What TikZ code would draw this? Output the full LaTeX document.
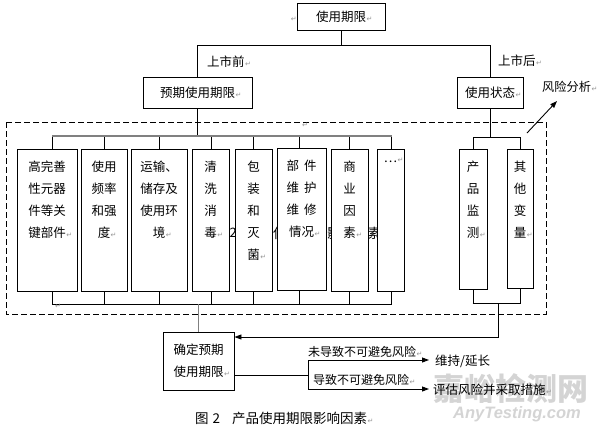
\documentclass[tikz,border=0pt]{standalone}
\usepackage{fontspec}
\newfontfamily\cjk{Noto Sans CJK SC}
\newfontfamily\dejavu{DejaVu Sans}
\newfontfamily\wmfont{Liberation Sans}
\usetikzlibrary{arrows.meta}
\definecolor{retgray}{RGB}{150,150,150}
\definecolor{wmgray}{RGB}{212,212,212}
\definecolor{lngray}{RGB}{128,128,128}
\newcommand\rt{\rlap{\hspace{0.5pt}\textcolor{retgray}{\dejavu\fontsize{7}{7}\selectfont ↵}}}
\tikzset{
  box/.style={draw, line width=0.9pt, fill=white, inner sep=0pt},
  txt/.style={font=\cjk\fontsize{12.5}{22}\selectfont, inner sep=0pt, align=center, anchor=north},
  lbl/.style={font=\cjk\fontsize{12.5}{15}\selectfont, inner sep=0pt, anchor=west},
  bgt/.style={font=\cjk\fontsize{13.5}{13.5}\selectfont, inner sep=0pt, anchor=west},
  ln/.style={line width=0.9pt},
  gln/.style={line width=1.3pt, draw=lngray},
  arr/.style={line width=0.9pt, -{Triangle[length=7pt,width=5pt]}},
  retm/.style={font=\dejavu\fontsize{7}{7}\selectfont, text=retgray, inner sep=0pt},
  dashbox/.style={line width=0.9pt, dash pattern=on 6pt off 3pt}
}
\begin{document}
\begin{tikzpicture}[x=1pt,y=-1pt]
\useasboundingbox (0,0) rectangle (598,432);
\fill[white] (0,0) rectangle (598,432);

% watermark
\node[font=\cjk\bfseries\fontsize{31}{31}\selectfont, text=wmgray, inner sep=0pt] (wm1) at (511,389) {嘉峪检测网};
\node[font=\wmfont\bfseries\itshape\fontsize{16.5}{16.5}\selectfont, text=wmgray, inner sep=0pt] (wm2) at (517,414) {AnyTesting.com};

% hidden background text fragments (visible only between boxes)
\node[bgt, font=\cjk\fontsize{13}{13}\selectfont] (bg1) at (229.5,233) {2};
\node[bgt] (bg2) at (273,233) {使};
\node[bgt] (bg3) at (327,233) {影};
\node[bgt] (bg4) at (367.5,233) {素};

% top level
\node[box, minimum width=88pt, minimum height=27pt, font=\cjk\fontsize{12.5}{15}\selectfont] (top) at (341,16.5) {使用期限\rt};
\node[retm, anchor=east] (m0) at (297,19) {↵};
\node[box, minimum width=109pt, minimum height=31pt, font=\cjk\fontsize{12.5}{15}\selectfont] (pre) at (197.5,92.5) {预期使用期限\rt};
\node[box, minimum width=66pt, minimum height=31pt, font=\cjk\fontsize{12.5}{15}\selectfont] (post) at (490,92.5) {使用状态\rt};
\node[lbl] (lpre) at (207,62) {上市前\rt};
\node[lbl] (lpost) at (498,61) {上市后\rt};
\node[lbl, font=\cjk\fontsize{12.2}{15}\selectfont] (risk) at (542,87) {风险分析\rt};

\draw[ln] (top.south) -- ++(0,16);
\draw[ln] (pre.north) -- ++(0,-31) -| (post.north);

% dashed frame
\draw[dashbox] (6,122) rectangle (546,314);
\node[retm] (m1) at (305,125) {↵};

% left group boxes
\node[box, minimum width=60pt, minimum height=142pt] (b1) at (47,220) {};
\node[box, minimum width=46pt, minimum height=142pt] (b2) at (104,220) {};
\node[box, minimum width=56pt, minimum height=142pt] (b3) at (159,220) {};
\node[box, minimum width=37pt, minimum height=142pt] (b4) at (210.5,220) {};
\node[box, minimum width=37pt, minimum height=142pt] (b5) at (253.5,220) {};
\node[box, minimum width=49pt, minimum height=142pt] (b6) at (301.5,219) {};
\node[box, minimum width=37pt, minimum height=142pt] (b7) at (349.5,220) {};
\node[box, minimum width=27pt, minimum height=142pt] (b8) at (390.5,220) {};

\node[txt] (t1) at ([yshift=-12pt]b1.north) {高完善\\性元器\\件等关\\键部件\rt};
\node[txt] (t2) at ([yshift=-12pt]b2.north) {使用\\频率\\和强\\度\rt};
\node[txt] (t3) at ([yshift=-12pt]b3.north) {运输、\\储存及\\使用环\\境\rt};
\node[txt] (t4) at ([yshift=-12pt]b4.north) {清\\洗\\消\\毒\rt};
\node[txt] (t5) at ([yshift=-12pt]b5.north) {包\\装\\和\\灭\\菌\rt};
\node[txt] (t6) at ([yshift=-12pt]b6.north) {部\hspace{5pt}件\\维\hspace{5pt}护\\维\hspace{5pt}修\\情况\rt};
\node[txt] (t7) at ([yshift=-12pt]b7.north) {商\\业\\因\\素\rt};
\node[txt] (t8) at ([yshift=-9pt]b8.north) {…\rt};

% left group connectors
\draw[ln] (pre.south) -- (pre.south |- 0,136);
\foreach \b/\x in {b1/52,b2/104,b3/159,b4/211,b5/253,b6/299,b7/349,b8/391}{
  \draw[ln] (\x,136) -- (\b.north -| \x,0);
  \draw[ln] (\b.south -| \x,0) -- (\x,304);
}
\draw[gln] (52,136) -- (391.5,136);
\draw[ln] (52,304) -- (391.5,304);
\node[retm] (m2) at (58,306) {↵};

% right group boxes
\node[box, minimum width=28pt, minimum height=140pt] (r1) at (473,219) {};
\node[box, minimum width=26pt, minimum height=139pt] (r2) at (520,218.5) {};
\node[txt] (tr1) at ([yshift=-12pt]r1.north) {产\\品\\监\\测\rt};
\node[txt] (tr2) at ([yshift=-12pt]r2.north) {其\\他\\变\\量\rt};

\draw[ln] (post.south) -- (post.south |- 0,137);
\draw[ln] (473,137) -- (520.5,137);
\draw[ln] (473,137) -- (r1.north);
\draw[ln] (520,137) -- (r2.north);
\draw[ln] (r1.south) -- (473,303);
\draw[ln] (r2.south) -- (520,303);
\draw[ln] (472.5,303) -- (520.5,303);

% risk analysis arrow
\coordinate (ra) at (527,133);
\coordinate (rb) at (557,101);
\draw[arr] (ra) -- (rb);

% decision box
\node[box, minimum width=71pt, minimum height=58pt, font=\cjk\fontsize{12.5}{22}\selectfont, align=center] (det) at (198.5,361) {确定预期\\使用期限\rt};
\draw[gln, line width=1pt] (det.north |- 0,304) -- (det.north);
\draw[arr] (498,303) |- (det.east |- 0,337);

% outcomes
\node[lbl] (o1) at (435,361) {维持/延长};
\node[lbl] (o2) at (433,390) {评估风险并采取措施\rt};
\node[lbl, font=\cjk\fontsize{12}{14}\selectfont] (c1) at (308,352) {未导致不可避免风险\rt};
\node[lbl, font=\cjk\fontsize{12}{14}\selectfont] (c2) at (313,380) {导致不可避免风险\rt};
\coordinate (sp) at (308,375);
\draw[ln] (det.east |- sp) -- (sp);
\draw[ln] (308,360) -- (308,389);
\draw[arr] (308,360) -- (429,360);
\draw[arr] (308,389) -- (429,389);

% caption
\node[font=\cjk\fontsize{13.5}{14}\selectfont, inner sep=0pt, anchor=west] (cap) at (195,418) {图\hspace{4pt}2\hspace{12pt}产品使用期限影响因素\rt};
\end{tikzpicture}
\end{document}
